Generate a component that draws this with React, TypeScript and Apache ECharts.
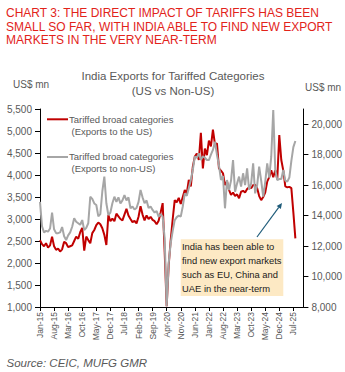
import React, { useEffect, useRef } from "react";
import * as echarts from "echarts";

// Months Jan-15 .. Dec-25 (category axis)
const monthNames = ["Jan", "Feb", "Mar", "Apr", "May", "Jun", "Jul", "Aug", "Sep", "Oct", "Nov", "Dec"];
const years = ["15", "16", "17", "18", "19", "20", "21", "22", "23", "24", "25"];
const categories: string[] = [];
years.forEach((y) => monthNames.forEach((m) => categories.push(`${m}-${y}`)));

// Tariffed broad categories, exports to the US (US$ mn, left axis)
const usExports = [
  2520, 2430, 2380, 2450, 2350, 2400, 2600, 2380, 2300, 2330, 2260, 2310,
  2480, 2450, 2360, 2380, 2400, 2500, 2600, 2550, 2700, 2800, 2280, 2600,
  2520, 2450, 2680, 2750, 2860, 2920, 2880, 2790, 2640, 2410, 3090, 2950,
  3010, 2950, 3120, 3060, 3000, 2970, 3100, 3230, 3080, 3000, 2930, 2960,
  2900, 3050, 3290, 3100, 2970, 3080, 3000, 3050, 2980, 2950, 2880, 2960,
  3150, 3360, 2250, 1020, 1950, 2520, 3000, 3430, 3380, 3480, 3340, 3500,
  3660, 3580, 3890, 3740, 4190, 4420, 4490, 4340, 4960, 4150, 4600, 4450,
  4780, 4650, 5030, 4700, 4720, 4150, 4100, 4040, 3770, 3850, 3660, 3550,
  3600, 3520, 3560, 3470, 3620, 3640, 3600, 3680, 3720, 3700, 3770, 3780,
  3700, 3520, 3430, 3500, 3600, 3850, 3950, 4110, 3950, 4110, 3900, 4910,
  4340, 4100, 3740, 3720, 3730, 3700, 3150, 2560,
];

// Tariffed broad categories, exports to non-US (US$ mn, right axis)
const nonUsExports = [
  14900, 13300, 12900, 13000, 12950, 13150, 14200, 13100, 12850, 12850, 12900, 13250,
  12650, 12400, 12700, 12900, 13270, 13820, 13600, 13500, 13400, 13710, 13050, 13200,
  13500, 15240, 15100, 14800, 14700, 13950, 14100, 15600, 16560, 14810, 14040, 14200,
  14810, 15240, 14900, 15200, 14800, 15000, 15350, 15000, 15200, 14480, 14600, 14400,
  14500, 14900, 15680, 15200, 14810, 15000, 14500, 14600, 14370, 14200, 14300, 13930,
  14100, 13930, 12500, 8050, 10900, 12200, 13000, 13700, 13900, 14000, 13930, 14600,
  15460, 15300, 15790, 16340, 17000, 17870, 17800, 18090, 17650, 17900, 17800, 17650,
  17650, 18000, 18310, 18850, 18000, 17300, 16340, 16600, 14480, 16340, 15680, 16300,
  17650, 15570, 16100, 16560, 15900, 16780, 16000, 17100, 15700, 16100, 17430, 15460,
  16000, 17210, 16300, 15240, 16200, 17430, 16500, 17870, 20935, 17000, 16340, 16400,
  16400, 17000, 16300, 16230, 16500, 17600, 18500, 18900,
];

const rightTicks = [8000, 10000, 12000, 14000, 16000, 18000, 20000];

const headerText =
  "CHART 3: THE DIRECT IMPACT OF TARIFFS HAS BEEN\nSMALL SO FAR, WITH INDIA ABLE TO FIND NEW EXPORT\nMARKETS IN THE VERY NEAR-TERM";
const chartTitle = "India Exports for Tariffed Categories\n(US vs Non-US)";
const unitLabel = "US$ mn";
const legendUS = ["Tariffed broad categories", "(Exports to the US)"];
const legendNonUS = ["Tariffed broad categories", "(Exports to non-US)"];
const noteText =
  "India has been able to\nfind new export markets\nsuch as EU, China and\nUAE in the near-term";
const sourceText = "Source: CEIC, MUFG GMR";

const FONT = "'Liberation Sans', Arial, sans-serif";
const RED = "#c00000";
const GRAY = "#a6a6a6";
const LABEL = "#595959";

const fmt = (v: number) => v.toLocaleString("en-US");

export default function App() {
  const ref = useRef<HTMLDivElement>(null);

  useEffect(() => {
    if (!ref.current) return;
    const chart = echarts.init(ref.current, null, { renderer: "svg" });

    // arrow geometry
    const ax0 = 257, ay0 = 237, ax1 = 282, ay1 = 203;
    const dx = ax1 - ax0, dy = ay1 - ay0;
    const len = Math.sqrt(dx * dx + dy * dy);
    const ux = dx / len, uy = dy / len;
    const bx = ax1 - ux * 5.5, by = ay1 - uy * 5.5;
    const px = -uy * 2.6, py = ux * 2.6;

    chart.setOption({
      animation: false,
      textStyle: { fontFamily: FONT },
      grid: { left: 40, right: 41, top: 109, bottom: 65, containLabel: false },
      xAxis: {
        type: "category",
        data: categories,
        boundaryGap: false,
        axisLine: { show: true, lineStyle: { color: "#000", width: 1 } },
        axisTick: { show: true, interval: 6, length: 4, lineStyle: { color: "#000" } },
        axisLabel: {
          interval: 6,
          rotate: 90,
          fontSize: 8.5,
          color: LABEL,
          margin: 5,
          fontFamily: FONT,
        },
        splitLine: { show: false },
      },
      yAxis: [
        {
          type: "value",
          min: 1000,
          max: 5500,
          interval: 500,
          position: "left",
          axisLine: { show: true, lineStyle: { color: "#000", width: 1 } },
          axisTick: { show: true, length: 5, lineStyle: { color: "#000" } },
          axisLabel: { formatter: (v: number) => fmt(v), fontSize: 10, color: LABEL, margin: 8, fontFamily: FONT },
          splitLine: { show: false },
        },
        {
          type: "value",
          min: 8000,
          max: 21000,
          interval: 2000,
          position: "right",
          axisLine: { show: true, lineStyle: { color: "#000", width: 1 } },
          axisTick: { show: true, length: 5, lineStyle: { color: "#000" }, customValues: rightTicks },
          axisLabel: {
            formatter: (v: number) => fmt(v),
            fontSize: 10,
            color: LABEL,
            margin: 8,
            fontFamily: FONT,
            customValues: rightTicks,
          },
          splitLine: { show: false },
        },
      ],
      series: [
        {
          name: "Tariffed broad categories (Exports to the US)",
          type: "line",
          yAxisIndex: 0,
          data: usExports,
          symbol: "none",
          lineStyle: { color: RED, width: 2 },
          itemStyle: { color: RED },
          z: 2,
        },
        {
          name: "Tariffed broad categories (Exports to non-US)",
          type: "line",
          yAxisIndex: 1,
          data: nonUsExports,
          symbol: "none",
          lineStyle: { color: GRAY, width: 2 },
          itemStyle: { color: GRAY },
          z: 3,
        },
      ],
      graphic: [
        {
          type: "text",
          x: 6,
          y: 6,
          style: {
            text: headerText,
            fontFamily: FONT,
            fontSize: 12,
            lineHeight: 13.7,
            fill: "#e2231a",
            align: "left",
            verticalAlign: "top",
          },
        },
        {
          type: "text",
          x: 173,
          y: 68.6,
          style: {
            text: chartTitle,
            fontFamily: FONT,
            fontSize: 11.5,
            lineHeight: 14.7,
            fill: LABEL,
            align: "center",
            verticalAlign: "top",
          },
        },
        {
          type: "text",
          x: 13,
          y: 84,
          style: { text: unitLabel, fontFamily: FONT, fontSize: 10, fill: LABEL, align: "left", verticalAlign: "middle" },
        },
        {
          type: "text",
          x: 305,
          y: 87,
          style: { text: unitLabel, fontFamily: FONT, fontSize: 10, fill: LABEL, align: "left", verticalAlign: "middle" },
        },
        // legend
        { type: "line", shape: { x1: 47, y1: 119.3, x2: 68, y2: 119.3 }, style: { stroke: RED, lineWidth: 2 } },
        {
          type: "text",
          x: 69,
          y: 119.3,
          style: { text: legendUS[0], fontFamily: FONT, fontSize: 9.5, fill: LABEL, verticalAlign: "middle" },
        },
        {
          type: "text",
          x: 71.5,
          y: 131.7,
          style: { text: legendUS[1], fontFamily: FONT, fontSize: 9.5, fill: LABEL, verticalAlign: "middle" },
        },
        { type: "line", shape: { x1: 47, y1: 157, x2: 68, y2: 157 }, style: { stroke: GRAY, lineWidth: 2 } },
        {
          type: "text",
          x: 69,
          y: 156.7,
          style: { text: legendNonUS[0], fontFamily: FONT, fontSize: 9.5, fill: LABEL, verticalAlign: "middle" },
        },
        {
          type: "text",
          x: 71.5,
          y: 168.5,
          style: { text: legendNonUS[1], fontFamily: FONT, fontSize: 9.5, fill: LABEL, verticalAlign: "middle" },
        },
        // annotation
        {
          type: "rect",
          shape: { x: 180.7, y: 239.3, width: 102.6, height: 56.7 },
          style: { fill: "#fde9c4" },
          z: 10,
        },
        {
          type: "text",
          x: 182,
          y: 239.6,
          z: 11,
          style: {
            text: noteText,
            fontFamily: FONT,
            fontSize: 9.4,
            lineHeight: 14.1,
            fill: "#1a1a1a",
            align: "left",
            verticalAlign: "top",
          },
        },
        {
          type: "line",
          z: 11,
          shape: { x1: ax0, y1: ay0, x2: bx, y2: by },
          style: { stroke: "#1f5c7a", lineWidth: 1.2 },
        },
        {
          type: "polygon",
          z: 11,
          shape: { points: [[ax1, ay1], [bx + px, by + py], [bx - px, by - py]] },
          style: { fill: "#1f5c7a" },
        },
        {
          type: "text",
          x: 6.5,
          y: 363.3,
          style: {
            text: sourceText,
            fontFamily: FONT,
            fontSize: 11.5,
            fontStyle: "italic",
            fill: LABEL,
            align: "left",
            verticalAlign: "middle",
          },
        },
      ],
    });

    return () => chart.dispose();
  }, []);

  return (
    <div
      ref={ref}
      style={{ position: "fixed", left: 0, top: 0, width: 345, height: 372, background: "#fff" }}
    />
  );
}
